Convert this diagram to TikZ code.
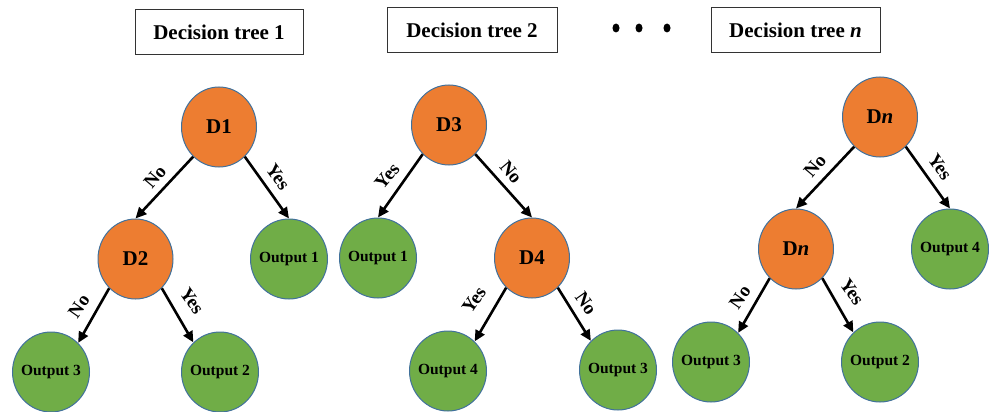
\documentclass[tikz,border=0pt]{standalone}
\usepackage{fontspec}
\setmainfont{Liberation Serif}
\usetikzlibrary{shapes.geometric,arrows.meta}
\definecolor{dorange}{HTML}{ED7D31}
\definecolor{dgreen}{HTML}{70AD47}
\definecolor{dblue}{HTML}{41719C}
\newcommand\zw[1]{\makebox[0pt]{#1}}
\tikzset{
  dnode/.style={ellipse, minimum width=75pt, minimum height=80pt, inner sep=0pt,
    fill=dorange, draw=dblue, line width=1pt, font=\fontsize{21}{24}\selectfont\bfseries},
  onode/.style={ellipse, minimum width=77pt, minimum height=80pt, inner sep=0pt,
    fill=dgreen, draw=dblue, line width=1pt, font=\fontsize{15.5}{18}\selectfont\bfseries},
  titlebox/.style={draw=black!80, line width=0.8pt, fill=white, minimum width=168pt,
    minimum height=45pt, inner sep=0pt, font=\fontsize{21}{24}\selectfont\bfseries},
  arr/.style={-{Triangle[length=11pt,width=10pt]}, line width=2.6pt, black},
  lbl/.style={font=\fontsize{19}{22}\selectfont\bfseries, inner sep=0pt},
  dotnode/.style={ellipse, fill=black, minimum width=7pt, minimum height=9pt, inner sep=0pt}
}
\begin{document}
\begin{tikzpicture}[x=1pt,y=-1pt]
\useasboundingbox (0,0) rectangle (989,412);
% titles
\node[titlebox] (t1) at (219,32) {Decision tree 1};
\node[titlebox, minimum width=170pt] (t2) at (472,30) {Decision tree 2};
\node[titlebox, minimum width=169pt] (tn) at (795.5,30) {Decision tree \textit{n}};
\node[dotnode] (p1) at (616,28) {};
\node[dotnode] (p2) at (639,28) {};
\node[dotnode] (p3) at (667,28) {};
% tree 1
\node[dnode] (d1) at (219,127) {D1};
\node[dnode] (d2) at (135.5,259) {D2};
\node[onode] (a1) at (289,259) {\zw{Output 1}};
\node[onode] (a3) at (51,372) {\zw{Output 3}};
\node[onode] (a2) at (220,372) {\zw{Output 2}};
\draw[arr] (d1.229) -- (d2.north);
\draw[arr] (d1.311) -- (a1.north);
\draw[arr] (d2.228) -- (a3.47);
\draw[arr] (d2.312) -- (a2.132);
\node[lbl, rotate=50] (l1) at (155,177) {No};
\node[lbl, rotate=-55] (l2) at (278,177) {Yes};
\node[lbl, rotate=55] (l3) at (79,306) {No};
\node[lbl, rotate=-55] (l4) at (192,301) {Yes};
% tree 2
\node[dnode] (d3) at (449,125) {D3};
\node[dnode] (d4) at (532,258) {D4};
\node[onode] (b1) at (378,258) {\zw{Output 1}};
\node[onode] (b4) at (448,371) {\zw{Output 4}};
\node[onode] (b3) at (618,370) {\zw{Output 3}};
\draw[arr] (d3.228) -- (b1.north);
\draw[arr] (d3.312) -- (d4.north);
\draw[arr] (d4.229) -- (b4.48);
\draw[arr] (d4.311) -- (b3.133);
\node[lbl, rotate=50] (m1) at (387,176) {Yes};
\node[lbl, rotate=-50] (m2) at (511,172) {No};
\node[lbl, rotate=55] (m3) at (474,300) {Yes};
\node[lbl, rotate=-55] (m4) at (586,303) {No};
% tree n
\node[dnode] (dn) at (880,117) {D\textit{n}};
\node[dnode] (dm) at (796,249) {D\textit{n}};
\node[onode] (c4) at (950,249) {\zw{Output 4}};
\node[onode] (c3) at (711,362) {\zw{Output 3}};
\node[onode] (c2) at (880,362) {\zw{Output 2}};
\draw[arr] (dn.229) -- (dm.north);
\draw[arr] (dn.311) -- (c4.north);
\draw[arr] (dm.228) -- (c3.47);
\draw[arr] (dm.312) -- (c2.132);
\node[lbl, rotate=50] (n1) at (815,166) {No};
\node[lbl, rotate=-55] (n2) at (940,167) {Yes};
\node[lbl, rotate=55] (n3) at (740,297) {No};
\node[lbl, rotate=-55] (n4) at (852,292) {Yes};
\end{tikzpicture}
\end{document}
